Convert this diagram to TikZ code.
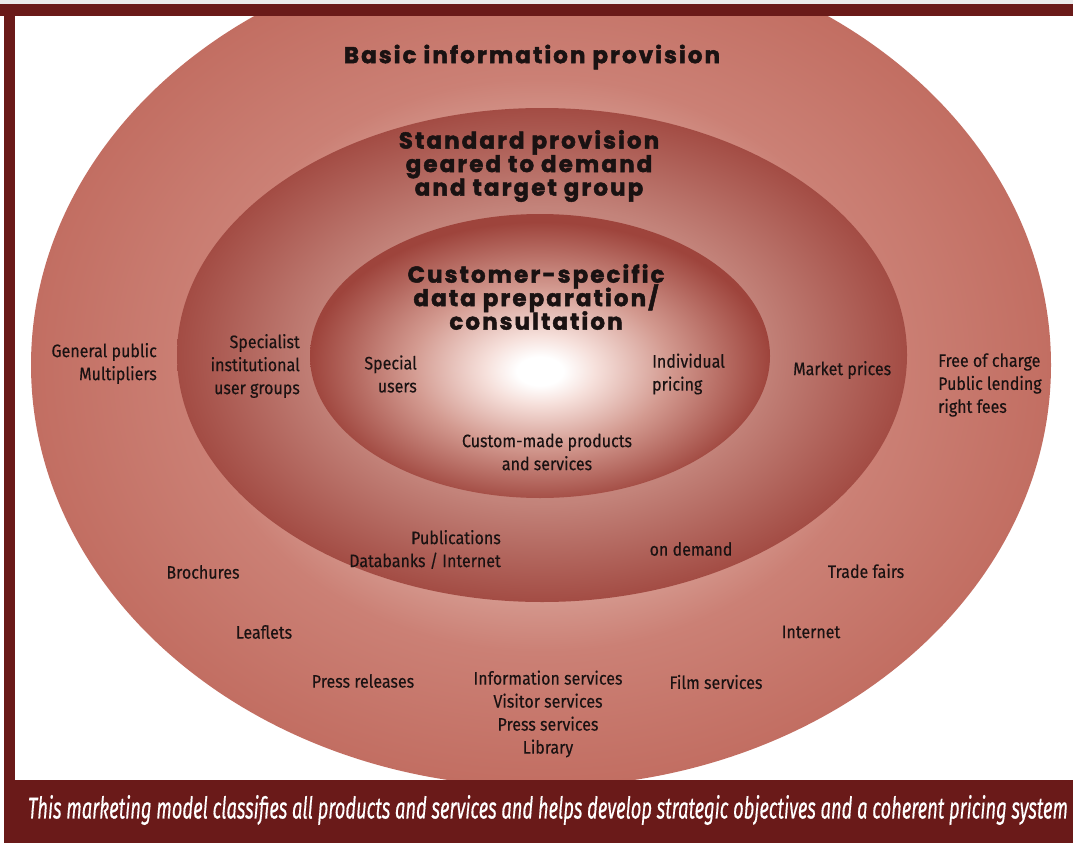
\documentclass[tikz,border=0pt]{standalone}
\usepackage{fontspec}
\setmainfont{Fira Sans}[FakeStretch=0.89, FakeBold=0.3]
\newfontfamily\titlefont{Poppins}[LetterSpace=9, BoldFeatures={FakeBold=2}]
\newfontfamily\capfont{Fira Sans}[FakeBold=0.6]
\newcommand\ttlsetup{\titlefont\bfseries\fontsize{23}{23.5}\selectfont\lineskiplimit=-30pt\relax}
\definecolor{frame}{HTML}{6A1A19}
\definecolor{ink}{HTML}{1A1212}
\definecolor{oA}{HTML}{E6BDB5}
\definecolor{oB}{HTML}{DAA69C}
\definecolor{oC}{HTML}{CB8075}
\definecolor{oD}{HTML}{C26E62}
\definecolor{mA}{HTML}{D9A59C}
\definecolor{mB}{HTML}{C3837A}
\definecolor{mC}{HTML}{A34C44}
\definecolor{iA}{HTML}{FFFFFF}
\definecolor{iB}{HTML}{F6E0DB}
\definecolor{iC}{HTML}{D39A90}
\definecolor{iD}{HTML}{9E443C}
\pgfdeclareradialshading{outershade}{\pgfpoint{0bp}{0bp}}{color(0bp)=(oA); color(12bp)=(oB); color(17bp)=(oC); color(25bp)=(oD); color(50bp)=(oD)}
\pgfdeclareradialshading{middleshade}{\pgfpoint{0bp}{0bp}}{color(0bp)=(mA); color(15bp)=(mB); color(25bp)=(mC); color(50bp)=(mC)}
\pgfdeclareradialshading{innershade}{\pgfpoint{0bp}{-2.8bp}}{color(0bp)=(iA); color(2.5bp)=(iA); color(6bp)=(iB); color(14bp)=(iC); color(25bp)=(iD); color(50bp)=(iD)}
\begin{document}
\begin{tikzpicture}[x=1pt,y=-1pt,
  lab/.style={font=\fontsize{18}{23}\selectfont, text=ink, inner sep=0pt},
  ttl/.style={font=\ttlsetup, text=ink, align=center, inner sep=0pt}]
\useasboundingbox (0,0) rectangle (1073,843);
\fill[white] (0,0) rectangle (1073,843);
\fill[black!8] (0,0) rectangle (1073,4);
\begin{scope}
  \clip (15,16) rectangle (1073,780);
  \shade[shading=outershade] (541,365) ellipse [x radius=510, y radius=422];
  \shade[shading=middleshade] (542,355) ellipse [x radius=365, y radius=247];
  \shade[shading=innershade] (540,356) ellipse [x radius=230, y radius=142];
\end{scope}
\fill[frame] (0,4) rectangle (1073,16);
\fill[frame] (4,4) rectangle (15,843);
\fill[frame] (4,780) rectangle (1073,843);
% titles
\node[ttl] (basic) at (532,57) {Basic information provision};
\node[ttl] (standard) at (529,166) {Standard provision\\geared to demand\\and target group};
\node[ttl] (custspec) at (536,297) {Customer-specific\\data preparation/\\consultation};
% labels
\node[lab, align=right, anchor=east] (genpub) at (157,363.5) {General public\\Multipliers};
\node[lab, align=right, anchor=east] (specinst) at (300,366) {Specialist\\institutional\\user groups};
\node[lab, align=right, anchor=east] (specusers) at (417,374) {Special\\users};
\node[lab, align=left, anchor=west] (indiv) at (652,374) {Individual\\pricing};
\node[lab, align=center] (custom) at (547,452) {Custom-made products\\and services};
\node[lab, anchor=west] (market) at (793,370) {Market prices};
\node[lab, align=left, anchor=west] (free) at (938,385) {Free of charge\\Public lending\\right fees};
\node[lab, align=right, anchor=east] (pubs) at (501,549.5) {Publications\\Databanks / Internet};
\node[lab] (ondemand) at (691,549) {on demand};
\node[lab] (brochures) at (203,572) {Brochures};
\node[lab] (tradefairs) at (866,571) {Trade fairs};
\node[lab] (leaflets) at (264,632) {Leaflets};
\node[lab] (internet) at (811,632) {Internet};
\node[lab] (pressrel) at (363,681) {Press releases};
\node[lab, align=center] (infoserv) at (548,714) {Information services\\Visitor services\\Press services\\Library};
\node[lab] (film) at (716,682) {Film services};
% caption
\node[text=white, inner sep=0pt] (caption) at (548,810) {\resizebox{1040pt}{\height}{\capfont\itshape\fontsize{30}{34}\selectfont This marketing model classifies all products and services and helps develop strategic objectives and a coherent pricing system}};
\end{tikzpicture}
\end{document}
